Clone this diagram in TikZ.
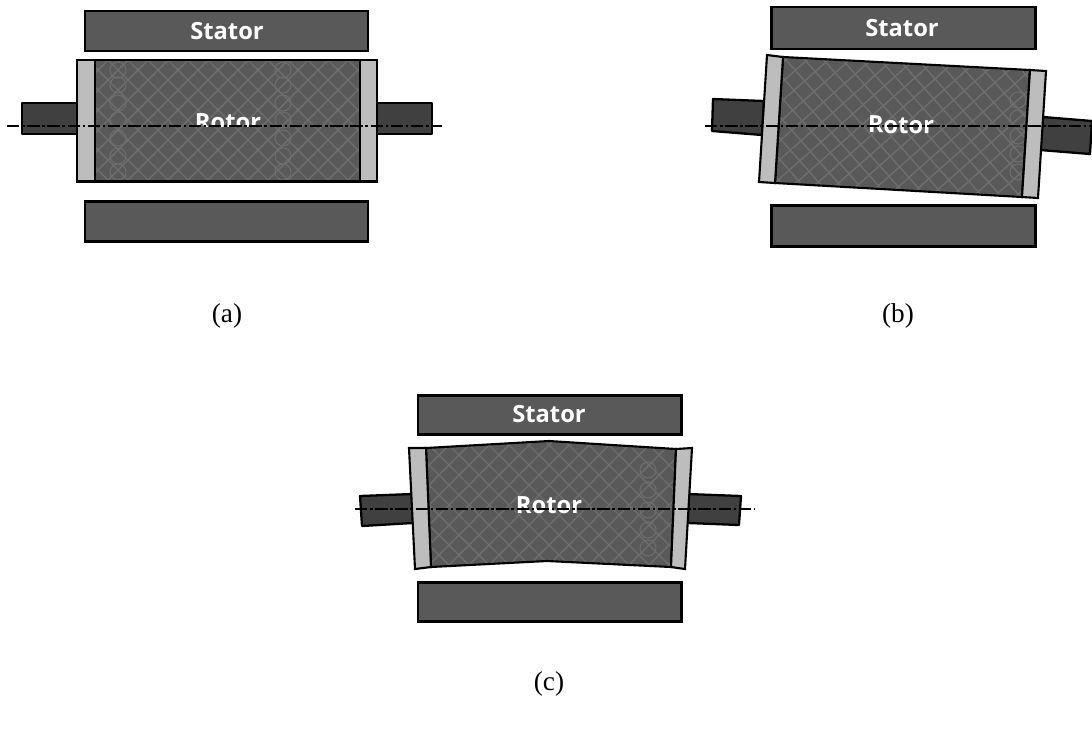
\documentclass[tikz,border=0pt]{standalone}
\usepackage{fontspec}
\setmainfont{Liberation Serif}
\newfontfamily\labelfont{Open Sans}
\definecolor{statorgray}{HTML}{595959}
\definecolor{shaftgray}{HTML}{404040}
\definecolor{capgray}{HTML}{BDBDBD}
\definecolor{hatchgray}{HTML}{6E6E6E}
\tikzset{
    statorbox/.style={draw=black, fill=statorgray, line width=1.7pt},
    shaftbox/.style={draw=black, fill=shaftgray, line width=1.3pt, line join=round},
    corebox/.style={fill=statorgray},
    coreline/.style={draw=black, line width=1.2pt, line join=miter},
    capbox/.style={draw=black, fill=capgray, line width=1.2pt},
    hatchline/.style={draw=hatchgray, line width=.8pt},
    axisline/.style={draw=black, line width=.7pt, dash pattern=on 7pt off 1.5pt on 1.5pt off 1.5pt},
    partlabel/.style={text=white, font=\labelfont\bfseries\fontsize{13.5}{16}\selectfont},
    caption/.style={font=\fontsize{15.5}{18}\selectfont}
}
% diagonal mesh of the rotor core: centre x, centre y, angle
\newcommand{\rotorhatch}[3]{
    \begin{scope}[shift={(#1,#2)}, rotate=#3]
    \foreach \k in {-14,...,14}
    {
        \draw[hatchline] (\k*20-120,-120)--(\k*20+120,120);
        \draw[hatchline] (\k*20-120,120)--(\k*20+120,-120);
    }
    \end{scope}
}
\begin{document}
\begin{tikzpicture}[x=0.02cm, y=-0.02cm]
    \useasboundingbox (0,0) rectangle (1092,731);

    % (a)
    \draw[statorbox] (85,11) rectangle (368,51);
    \draw[statorbox] (85,201) rectangle (368,241);
    \draw[shaftbox] (22,103) rectangle (77,134);
    \draw[shaftbox] (377,103) rectangle (432,134);
    \fill[corebox] (95,60) rectangle (360,181);
    \begin{scope}
        \clip (95,60) rectangle (360,181);
        \rotorhatch{228}{120}{0}
        \foreach \y in {70,85,103,120,138,156,172}
        {
            \draw[hatchline, line width=.6pt] (118,\y) circle (8);
            \draw[hatchline, line width=.6pt] (283,\y) circle (8);
        }
    \end{scope}
    \draw[coreline, line width=1.7pt] (77,60) rectangle (377,181);
    \draw[capbox, line width=1.7pt] (77,60) rectangle (95,181);
    \draw[capbox, line width=1.7pt] (360,60) rectangle (377,181);
    \node[partlabel] (statorA) at (227,31) {Stator};
    \begin{scope}
        \clip (150,90) rectangle (300,126);
        \node[partlabel] (rotorA) at (228,122) {Rotor};
    \end{scope}
    \draw[axisline] (7,126)--(442,126);
    \node[caption] (capA) at (227,316) {(a)};

    % (b)
    \draw[statorbox] (771,7) rectangle (1035,49);
    \draw[statorbox] (771,205) rectangle (1035,246);
    \draw[shaftbox] (713,99)--(764,101)--(762,135)--(712,131)--cycle;
    \draw[shaftbox] (1043,117)--(1092,121)--(1090,154)--(1040,150)--cycle;
    \fill[corebox] (783,57)--(1030,70)--(1022,197)--(775,183)--cycle;
    \begin{scope}
        \clip (783,57)--(1030,70)--(1022,197)--(775,183)--cycle;
        \rotorhatch{902}{127}{-3.5}
        \foreach \y in {100,118,136,154,172}
        {
            \draw[hatchline, line width=.6pt] (1018,\y) circle (8);
        }
    \end{scope}
    \draw[coreline] (783,57)--(1030,70)--(1022,197)--(775,183)--cycle;
    \draw[capbox] (767,55)--(783,57)--(775,183)--(759,182)--cycle;
    \draw[capbox] (1030,70)--(1046,71)--(1038,198)--(1022,197)--cycle;
    \node[partlabel] (statorB) at (902,28) {Stator};
    \node[partlabel, rotate=-1] (rotorB) at (901,125) {Rotor};
    \draw[axisline] (705,126)--(1092,126);
    \node[caption] (capB) at (898,316) {(b)};

    % (c)
    \draw[statorbox] (418,395) rectangle (681,434);
    \draw[statorbox] (418,582) rectangle (681,621);
    \draw[shaftbox] (360,496)--(412,494)--(413,523)--(362,526)--cycle;
    \draw[shaftbox] (688,494)--(741,496)--(739,525)--(688,523)--cycle;
    \fill[corebox] (426,448)--(549,441)--(676,449)--(671,567)--(547,561)--(431,567)--cycle;
    \begin{scope}
        \clip (426,448)--(549,441)--(676,449)--(671,567)--(547,561)--(431,567)--cycle;
        \rotorhatch{549}{505}{0}
        \foreach \y in {470,490,510,530,548}
        {
            \draw[hatchline, line width=.6pt] (648,\y) circle (8);
        }
    \end{scope}
    \draw[coreline] (426,448)--(549,441)--(676,449)--(671,567)--(547,561)--(431,567)--cycle;
    \draw[capbox] (409,448)--(426,448)--(431,567)--(415,569)--cycle;
    \draw[capbox] (676,449)--(692,448)--(685,569)--(671,567)--cycle;
    \node[partlabel] (statorC) at (549,414) {Stator};
    \node[partlabel] (rotorC) at (549,505) {Rotor};
    \draw[axisline] (355,509)--(754,509);
    \node[caption] (capC) at (549,684) {(c)};
\end{tikzpicture}
\end{document}
